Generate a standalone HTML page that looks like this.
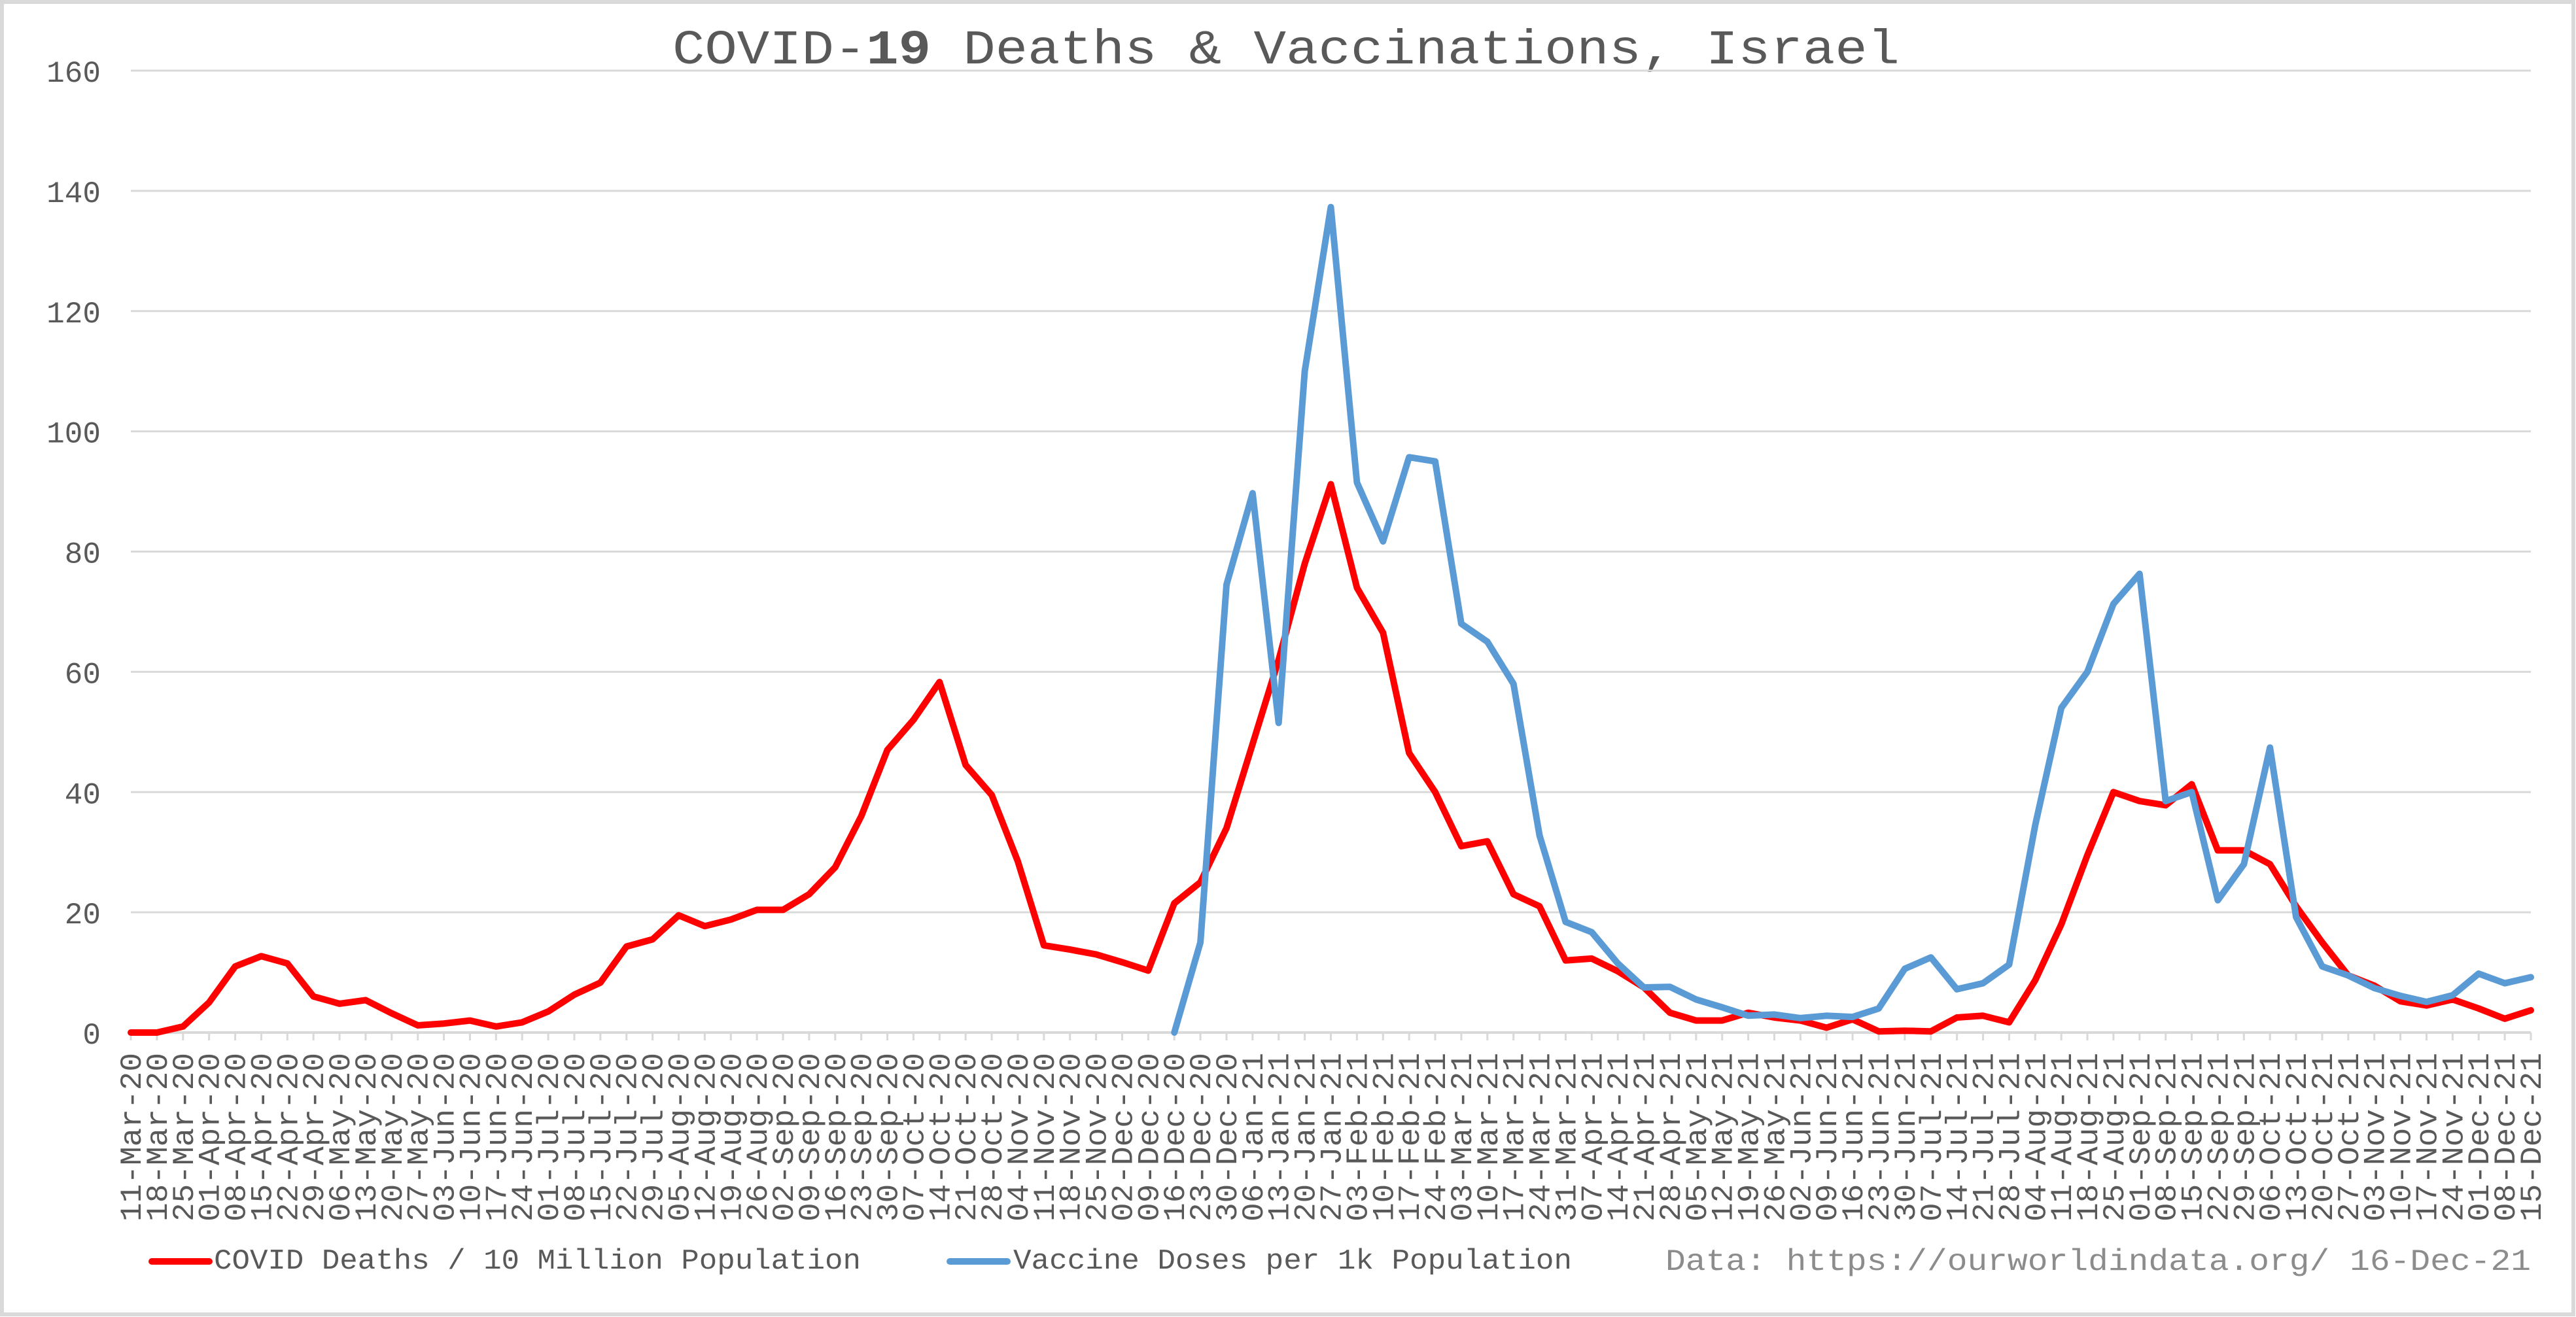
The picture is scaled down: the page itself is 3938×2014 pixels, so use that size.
<!DOCTYPE html>
<html><head><meta charset="utf-8"><style>
html,body{margin:0;padding:0;background:#fff;}
svg{display:block;}
text{font-family:"Liberation Mono",monospace;}
</style></head><body>
<svg id="chart" width="3938" height="2014" viewBox="0 0 3938 2014" xmlns="http://www.w3.org/2000/svg">
<rect x="3" y="3" width="3931" height="2007" fill="#fff" stroke="#d9d9d9" stroke-width="6"/>
<text x="1966" y="97" text-anchor="middle" font-size="74" fill="#595959" textLength="1876" lengthAdjust="spacingAndGlyphs">COVID-<tspan font-weight="bold">19</tspan> Deaths &amp; Vaccinations, Israel</text>
<g id="grid"></g>
<g id="yaxis"></g>
<g id="xaxis"></g>
<g id="series"></g>
<g>
<line x1="232" y1="1929" x2="320" y2="1929" stroke="#ff0000" stroke-width="10" stroke-linecap="round"/>
<text x="327" y="1940" font-size="44" fill="#595959" textLength="989" lengthAdjust="spacingAndGlyphs">COVID Deaths / 10 Million Population</text>
<line x1="1452" y1="1929" x2="1540" y2="1929" stroke="#5b9bd5" stroke-width="10" stroke-linecap="round"/>
<text x="1549" y="1940" font-size="44" fill="#595959" textLength="854" lengthAdjust="spacingAndGlyphs">Vaccine Doses per 1k Population</text>
</g>
<text x="3869" y="1942" text-anchor="end" font-size="46" fill="#8c8c8c" textLength="1323" lengthAdjust="spacingAndGlyphs">Data: https://ourworldindata.org/ 16-Dec-21</text>
</svg>
<script>
const categories = ["11-Mar-20","18-Mar-20","25-Mar-20","01-Apr-20","08-Apr-20","15-Apr-20","22-Apr-20","29-Apr-20","06-May-20","13-May-20","20-May-20","27-May-20","03-Jun-20","10-Jun-20","17-Jun-20","24-Jun-20","01-Jul-20","08-Jul-20","15-Jul-20","22-Jul-20","29-Jul-20","05-Aug-20","12-Aug-20","19-Aug-20","26-Aug-20","02-Sep-20","09-Sep-20","16-Sep-20","23-Sep-20","30-Sep-20","07-Oct-20","14-Oct-20","21-Oct-20","28-Oct-20","04-Nov-20","11-Nov-20","18-Nov-20","25-Nov-20","02-Dec-20","09-Dec-20","16-Dec-20","23-Dec-20","30-Dec-20","06-Jan-21","13-Jan-21","20-Jan-21","27-Jan-21","03-Feb-21","10-Feb-21","17-Feb-21","24-Feb-21","03-Mar-21","10-Mar-21","17-Mar-21","24-Mar-21","31-Mar-21","07-Apr-21","14-Apr-21","21-Apr-21","28-Apr-21","05-May-21","12-May-21","19-May-21","26-May-21","02-Jun-21","09-Jun-21","16-Jun-21","23-Jun-21","30-Jun-21","07-Jul-21","14-Jul-21","21-Jul-21","28-Jul-21","04-Aug-21","11-Aug-21","18-Aug-21","25-Aug-21","01-Sep-21","08-Sep-21","15-Sep-21","22-Sep-21","29-Sep-21","06-Oct-21","13-Oct-21","20-Oct-21","27-Oct-21","03-Nov-21","10-Nov-21","17-Nov-21","24-Nov-21","01-Dec-21","08-Dec-21","15-Dec-21"];
const deaths = [0,0,1,5,11,12.7,11.5,6,4.8,5.4,3.2,1.2,1.5,2,1,1.7,3.5,6.3,8.3,14.3,15.5,19.5,17.7,18.8,20.4,20.4,23,27.5,36,47,52,58.3,44.5,39.5,28.5,14.5,13.8,13,11.7,10.3,21.5,25,34,48,62,78,91.2,74,66.5,46.5,40,31,31.8,23,21,12,12.3,10.2,7.5,3.3,2,2,3.3,2.5,2,0.8,2.2,0.2,0.3,0.2,2.5,2.8,1.7,8.7,18,29.5,40,38.5,37.8,41.3,30.3,30.3,28,21,15,9.5,7.8,5.2,4.5,5.5,4,2.3,3.7];
const vaccines = [null,null,null,null,null,null,null,null,null,null,null,null,null,null,null,null,null,null,null,null,null,null,null,null,null,null,null,null,null,null,null,null,null,null,null,null,null,null,null,null,0,15,74.5,89.7,51.5,110,137.3,91.5,81.7,95.7,95,68,65,58,32.8,18.4,16.7,11.5,7.5,7.6,5.5,4.2,2.8,3,2.4,2.8,2.6,4,10.6,12.5,7.2,8.2,11.3,34.5,54,60,71.3,76.3,38.5,40,22,28,47.4,19.2,11,9.5,7.4,6.1,5.1,6.2,9.8,8.2,9.2];
const yTicks = [0,20,40,60,80,100,120,140,160];

const NS = "http://www.w3.org/2000/svg";
const X0 = 200, X1 = 3869, Y0 = 1579, Y1 = 108, YMAX = 160;
function xScale(i){ return X0 + (X1 - X0) * i / (categories.length - 1); }
function yScale(v){ return Y0 - (Y0 - Y1) * v / YMAX; }
function mk(tag, attrs, parent){ const e = document.createElementNS(NS, tag); for (const k in attrs) e.setAttribute(k, attrs[k]); parent.appendChild(e); return e; }

const grid = document.getElementById('grid');
const yaxis = document.getElementById('yaxis');
yTicks.forEach(t => {
  if (t !== 0) {
    const g = mk('line', {x1: X0, x2: X1, y1: yScale(t), y2: yScale(t), stroke: '#d9d9d9', 'stroke-width': 3}, grid);
    
    
  }
  const lbl = mk('text', {x: 154, y: yScale(t) + 17, 'text-anchor': 'end', 'font-size': 46, fill: '#595959'}, yaxis);
  lbl.textContent = String(t);
  
  
});

const xaxis = document.getElementById('xaxis');
const ax = mk('line', {x1: X0, x2: X1, y1: Y0, y2: Y0, stroke: '#d9d9d9', 'stroke-width': 4}, xaxis);


categories.forEach((c, i) => {
  const x = xScale(i);
  const tk = mk('line', {x1: x, x2: x, y1: Y0, y2: Y0 + 12, stroke: '#d9d9d9', 'stroke-width': 3}, xaxis);
  
  
  const t = mk('text', {x: 0, y: 0, 'text-anchor': 'end', 'font-size': 46, fill: '#595959', transform: 'translate(' + (x + 15) + ',1610) rotate(-90)', textLength: 258, lengthAdjust: 'spacingAndGlyphs'}, xaxis);
  t.textContent = c;
  
  
});

const series = document.getElementById('series');
function drawLine(values, color, name){
  let d = '';
  values.forEach((v, i) => { if (v === null || v === undefined) return; d += (d ? 'L' : 'M') + xScale(i).toFixed(1) + ',' + yScale(v).toFixed(1); });
  const p = mk('path', {d: d, fill: 'none', stroke: color, 'stroke-width': 10, 'stroke-linejoin': 'round', 'stroke-linecap': 'round'}, series);
  
  
}
drawLine(deaths, '#ff0000', 'deaths-line');
drawLine(vaccines, '#5b9bd5', 'vaccine-doses-line');
</script>
</body></html>
